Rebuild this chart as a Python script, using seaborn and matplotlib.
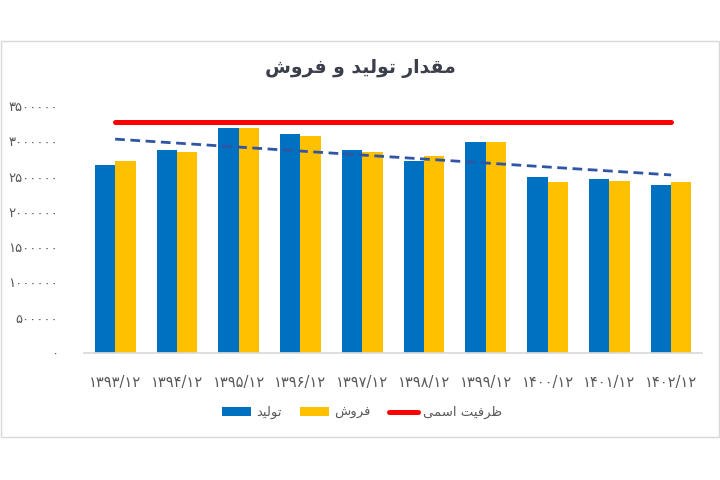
import numpy as np
import pandas as pd
import seaborn as sns
import matplotlib.pyplot as plt
from matplotlib.patches import Rectangle

sns.set_theme(style="white")
plt.rcParams['font.family'] = ['DejaVu Sans']

# داده‌ها (خوانده شده از تصویر)
SALHA = ['۱۳۹۳/۱۲', '۱۳۹۴/۱۲', '۱۳۹۵/۱۲', '۱۳۹۶/۱۲', '۱۳۹۷/۱۲',
         '۱۳۹۸/۱۲', '۱۳۹۹/۱۲', '۱۴۰۰/۱۲', '۱۴۰۱/۱۲', '۱۴۰۲/۱۲']
TOLID = [2667000, 2876000, 3181000, 3100000, 2881000,
         2719000, 2995000, 2496000, 2471000, 2381000]
FOROUSH = [2714000, 2843000, 3190000, 3081000, 2847000,
           2790000, 2995000, 2424000, 2433000, 2429000]
ZARFIAT = 3280000
Y_TICKS = [0, 500000, 1000000, 1500000, 2000000, 2500000, 3000000, 3500000]

FA_DIGITS = str.maketrans('0123456789', '۰۱۲۳۴۵۶۷۸۹')

# matplotlib حروف عربی را به هم نمی‌چسباند؛ شکل‌دهی دستی با فرم‌های نمایشی
FORMS = {
    'ا': ('\uFE8D', '\uFE8E', None, None),
    'د': ('\uFEA9', '\uFEAA', None, None),
    'ر': ('\uFEAD', '\uFEAE', None, None),
    'و': ('\uFEED', '\uFEEE', None, None),
    'م': ('\uFEE1', '\uFEE2', '\uFEE3', '\uFEE4'),
    'ق': ('\uFED5', '\uFED6', '\uFED7', '\uFED8'),
    'ت': ('\uFE95', '\uFE96', '\uFE97', '\uFE98'),
    'ل': ('\uFEDD', '\uFEDE', '\uFEDF', '\uFEE0'),
    'ی': ('\uFEEF', '\uFEF0', '\uFEF3', '\uFEF4'),
    'ف': ('\uFED1', '\uFED2', '\uFED3', '\uFED4'),
    'ش': ('\uFEB5', '\uFEB6', '\uFEB7', '\uFEB8'),
    'ظ': ('\uFEC5', '\uFEC6', '\uFEC7', '\uFEC8'),
    'س': ('\uFEB1', '\uFEB2', '\uFEB3', '\uFEB4'),
}


def fa(text):
    out = []
    for i, ch in enumerate(text):
        if ch not in FORMS:
            out.append(ch)
            continue
        prev = text[i - 1] if i > 0 else ''
        nxt = text[i + 1] if i + 1 < len(text) else ''
        j_prev = prev in FORMS and FORMS[prev][2] is not None
        j_next = nxt in FORMS and FORMS[ch][2] is not None
        iso, fin, ini, med = FORMS[ch]
        if j_prev and j_next:
            out.append(med)
        elif j_prev:
            out.append(fin)
        elif j_next:
            out.append(ini)
        else:
            out.append(iso)
    return ''.join(reversed(out))


df = pd.DataFrame({
    'sal': SALHA * 2,
    'meghdar': TOLID + FOROUSH,
    'noe': [fa('تولید')] * len(SALHA) + [fa('فروش')] * len(SALHA),
})

fig = plt.figure(figsize=(7.2, 4.8), dpi=100)
ax = fig.add_axes([0.117, 0.2646, 0.858, 0.5146])

sns.barplot(data=df, x='sal', y='meghdar', hue='noe',
            palette=['#0070C0', '#FFC000'], width=0.66, gap=0,
            saturation=1, linewidth=0, ax=ax)

x = np.arange(len(SALHA))
ax.plot(x, [ZARFIAT] * len(SALHA), color='#FF0000', lw=3.6,
        solid_capstyle='round', label=fa('ظرفیت اسمی'))
coef = np.polyfit(x, TOLID, 1)
ax.plot(x, np.polyval(coef, x), color='#2F55A4', lw=2, ls=(0, (3.5, 2)))

ax.set_ylim(0, 3500000)
ax.set_xlim(-0.5, len(SALHA) - 0.5)
ax.set_yticks(Y_TICKS)
ax.set_yticklabels([str(v).translate(FA_DIGITS) for v in Y_TICKS],
                   fontsize=9.5, color='#595959')
ax.set_xticks(x)
ax.set_xticklabels(SALHA, fontsize=10.5, color='#595959')
ax.tick_params(axis='y', length=0, pad=19)
ax.tick_params(axis='x', length=0, pad=16)
ax.set_xlabel('')
ax.set_ylabel('')
for s in ['left', 'right', 'top']:
    ax.spines[s].set_visible(False)
ax.spines['bottom'].set_color('#d9d9d9')

handles, labels = ax.get_legend_handles_labels()
ax.legend_.remove()
fig.legend(handles, labels, loc='center', bbox_to_anchor=(0.503, 0.14),
           ncol=3, frameon=False, fontsize=9.5, handlelength=2.2,
           handleheight=0.6, columnspacing=1.4, handletextpad=0.4,
           labelcolor='#595959')

fig.text(0.5, 0.858, fa('مقدار تولید و فروش'), ha='center', va='center',
         fontsize=13.5, fontweight='bold', color='#3a3f4b')

fig.patches.append(Rectangle((0.001, 0.0896), 0.997, 0.825,
                             transform=fig.transFigure, fill=False,
                             ec='#d9d9d9', lw=1))

fig.savefig('out.png', dpi=100)
